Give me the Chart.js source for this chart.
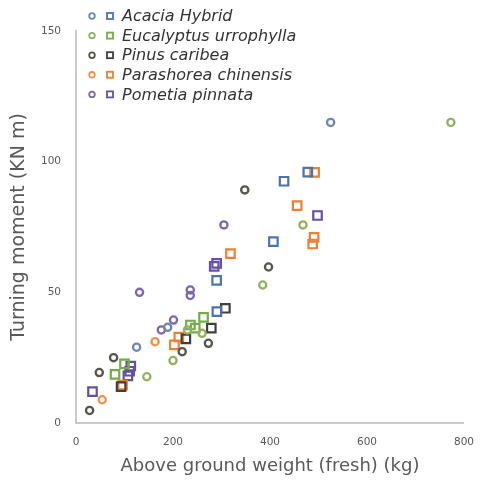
<!DOCTYPE html>
<html>
<head>
<meta charset="utf-8">
<script src="https://cdn.jsdelivr.net/npm/chart.js@4/dist/chart.umd.min.js"></script>
<style>
html,body{margin:0;padding:0;background:#fff;}
#wrap{width:487px;height:481px;position:relative;}
</style>
</head>
<body>
<div id="wrap"><canvas id="c" width="487" height="481"></canvas></div>
<script>
// ---- Data ----
const species = ["Acacia Hybrid", "Eucalyptus urrophylla", "Pinus caribea", "Parashorea chinensis", "Pometia pinnata"];

const acaciaCircleX = [525, 125, 189];
const acaciaCircleY = [115, 29, 36.6];
const acaciaSquareX = [478, 429, 407, 290, 290.5];
const acaciaSquareY = [96, 92.5, 69.4, 54.6, 42.6];

const eucCircleX = [773, 468, 385, 200, 146, 230, 260];
const eucCircleY = [115, 75.8, 52.8, 23.9, 17.7, 35.6, 34.3];
const eucSquareX = [263, 236, 246, 100, 80.5];
const eucSquareY = [40.4, 37.5, 36.3, 22.6, 18.6];

const pinusCircleX = [348, 397, 273, 219, 77.5, 48, 28];
const pinusCircleY = [89.2, 59.7, 30.5, 27.3, 25, 19.3, 4.8];
const pinusSquareX = [308, 279, 226.5, 93];
const pinusSquareY = [43.9, 36.3, 32.2, 13.9];

const paraCircleX = [163, 54];
const paraCircleY = [31.1, 8.9];
const paraSquareX = [492, 456, 491, 488, 318.5, 212, 203, 96];
const paraSquareY = [95.9, 83.2, 71, 68.5, 64.8, 32.9, 29.9, 14.5];

const pometiaCircleX = [305, 131, 235.6, 235.6, 201, 176];
const pometiaCircleY = [75.8, 50, 50.9, 48.8, 39.4, 35.6];
const pometiaSquareX = [498, 290, 285, 113, 110.7, 107, 34];
const pometiaSquareY = [79.4, 61.1, 59.9, 21.8, 19.8, 18, 12];

const xTicks = [0, 200, 400, 600, 800];
const yTicks = [0, 50, 100, 150];

// ---- Styles ----
const circleColors = ["#6f87b6", "#94b060", "#55564c", "#f0934a", "#7d68aa"];
const squareColors = ["#4d72b4", "#72ad46", "#404040", "#ee7f33", "#6650a0"];

function pts(xs, ys){ return xs.map((x,i)=>({x:x, y:ys[i]})); }

const seriesData = [
  [pts(acaciaCircleX, acaciaCircleY), pts(acaciaSquareX, acaciaSquareY)],
  [pts(eucCircleX, eucCircleY), pts(eucSquareX, eucSquareY)],
  [pts(pinusCircleX, pinusCircleY), pts(pinusSquareX, pinusSquareY)],
  [pts(paraCircleX, paraCircleY), pts(paraSquareX, paraSquareY)],
  [pts(pometiaCircleX, pometiaCircleY), pts(pometiaSquareX, pometiaSquareY)]
];

const datasets = [];
species.forEach((name, i) => {
  datasets.push({label: name + " (circle)", data: seriesData[i][0], pointStyle: 'circle',
    pointRadius: 3.6, pointBorderWidth: 2.3, borderColor: circleColors[i], backgroundColor: 'rgba(255,255,255,0)',
    pointHoverRadius: 3.6});
  datasets.push({label: name + " (square)", data: seriesData[i][1], pointStyle: 'rect',
    pointRadius: 6, pointBorderWidth: 2.2, borderColor: squareColors[i], backgroundColor: 'rgba(255,255,255,0)',
    pointHoverRadius: 6});
});

const legendPlugin = {
  id: 'speciesLegend',
  afterDraw(chart) {
    const ctx = chart.ctx;
    ctx.save();
    const x0 = 92, y0 = 16, dy = 19.6;
    species.forEach((name, i) => {
      const y = y0 + i * dy;
      ctx.lineWidth = 1.8;
      ctx.strokeStyle = circleColors[i];
      ctx.beginPath(); ctx.arc(x0, y, 2.8, 0, Math.PI * 2); ctx.stroke();
      ctx.strokeStyle = squareColors[i];
      ctx.strokeRect(x0 + 15, y - 3, 6, 6);
      ctx.fillStyle = '#333333';
      ctx.font = 'italic 16px "DejaVu Sans"';
      ctx.textBaseline = 'middle';
      ctx.textAlign = 'left';
      ctx.fillText(name, x0 + 30, y + 1);
    });
    ctx.restore();
  }
};

new Chart(document.getElementById('c'), {
  type: 'scatter',
  data: { datasets: datasets },
  options: {
    responsive: false,
    animation: false,
    layout: { padding: { left: 0, top: 31, right: 14, bottom: 0 } },
    plugins: { legend: { display: false }, tooltip: { enabled: false } },
    scales: {
      x: {
        type: 'linear', min: 0, max: 800,
        afterBuildTicks: (s) => { s.ticks = xTicks.map(v => ({value: v})); },
        afterFit: (s) => { s.height = 58; },
        grid: { display: false, drawTicks: false },
        border: { display: true, color: '#c9c9c9', width: 2 },
        ticks: { color: '#595959', font: { family: 'DejaVu Sans', size: 10.5 }, padding: 13, maxRotation: 0 },
        title: { display: true, text: 'Above ground weight (fresh) (kg)', color: '#595959',
          font: { family: 'DejaVu Sans', size: 18 }, padding: { top: 0, bottom: 4 } }
      },
      y: {
        type: 'linear', min: 0, max: 150,
        afterBuildTicks: (s) => { s.ticks = yTicks.map(v => ({value: v})); },
        afterFit: (s) => { s.width = 76; },
        grid: { display: false, drawTicks: false },
        border: { display: true, color: '#c9c9c9', width: 2 },
        ticks: { color: '#595959', font: { family: 'DejaVu Sans', size: 10.5 }, padding: 15 },
        title: { display: true, text: 'Turning moment (KN m)', color: '#595959',
          font: { family: 'DejaVu Sans', size: 19 }, padding: { top: 8, bottom: 0 } }
      }
    }
  },
  plugins: [legendPlugin]
});
</script>
</body>
</html>
